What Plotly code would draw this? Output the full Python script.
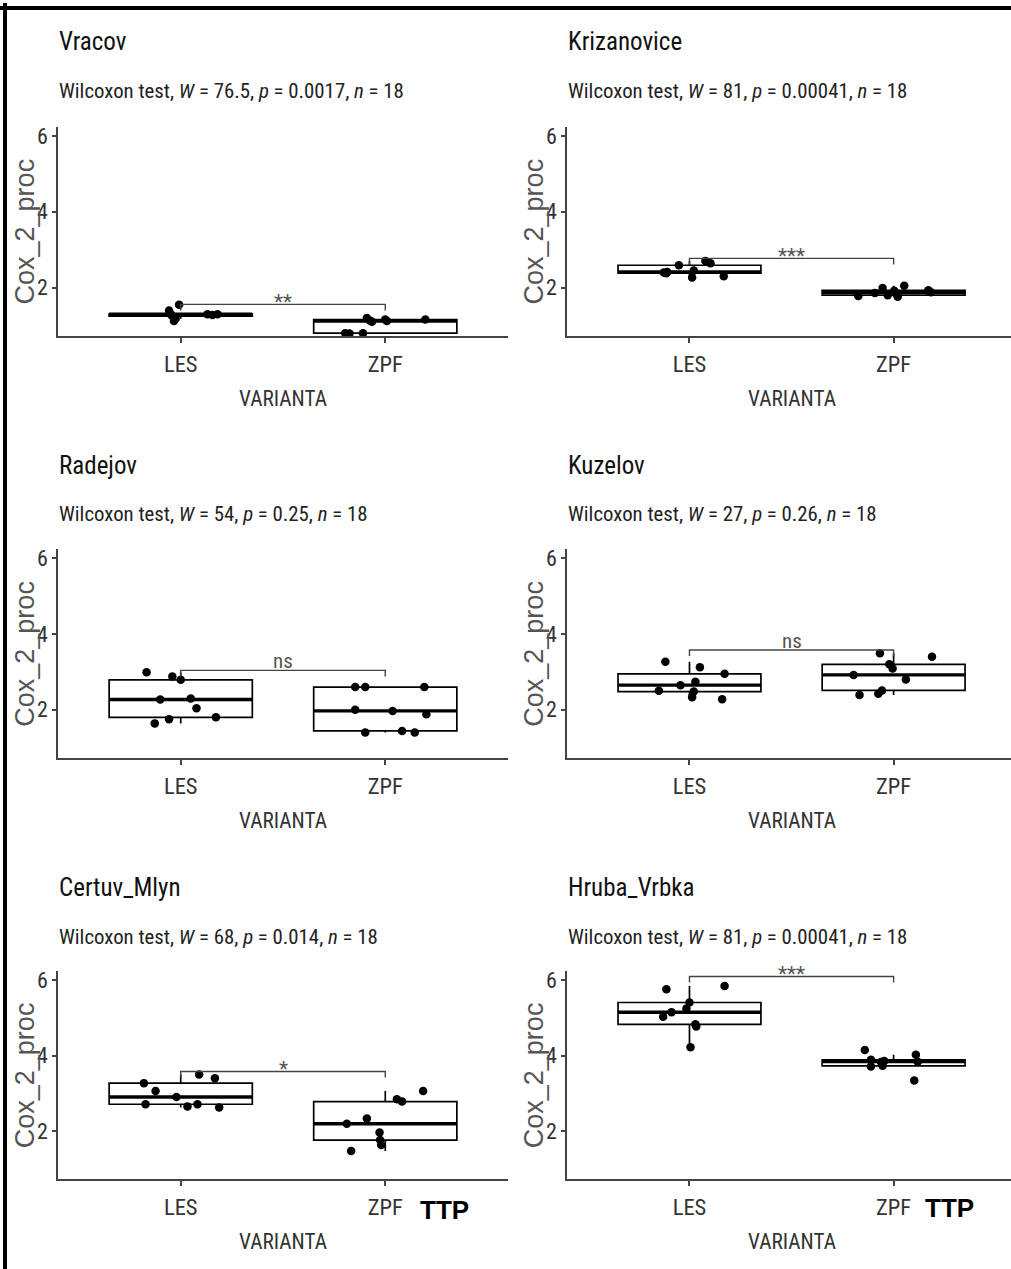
import numpy as np
import plotly.graph_objects as go

# ---- data -------------------------------------------------------------
SITES = ["Vracov", "Krizanovice", "Radejov", "Kuzelov", "Certuv_Mlyn", "Hruba_Vrbka"]
VARIANTS = ["LES", "ZPF"]
Y_TICKS = [2, 4, 6]

# Cox_2_proc, 9 samples per variant and site
VRACOV_LES = [1.40, 1.30, 1.25, 1.12, 1.18, 1.55, 1.30, 1.28, 1.30]
VRACOV_ZPF = [0.80, 0.79, 0.80, 1.20, 1.13, 1.10, 1.16, 1.12, 1.16]
KRIZANOVICE_LES = [2.40, 2.38, 2.59, 2.27, 2.45, 2.70, 2.64, 2.30, 2.41]
KRIZANOVICE_ZPF = [1.78, 1.86, 1.99, 1.80, 1.92, 1.76, 2.05, 1.93, 1.88]
RADEJOV_LES = [2.99, 1.64, 2.27, 1.75, 2.88, 2.79, 2.30, 2.04, 1.80]
RADEJOV_ZPF = [2.60, 2.60, 2.60, 2.00, 1.97, 1.88, 1.40, 1.44, 1.40]
KUZELOV_LES = [2.50, 3.27, 2.65, 2.33, 2.48, 2.74, 3.12, 2.28, 2.95]
KUZELOV_ZPF = [2.92, 2.39, 2.42, 3.49, 2.51, 3.20, 3.09, 2.80, 3.40]
CERTUV_LES = [3.27, 2.71, 3.06, 2.90, 2.65, 2.71, 3.50, 3.40, 2.62]
CERTUV_ZPF = [2.19, 1.47, 2.33, 1.96, 1.76, 1.63, 2.84, 2.78, 3.06]
HRUBA_LES = [5.03, 5.76, 5.15, 5.25, 5.41, 4.22, 4.83, 4.77, 5.85]
HRUBA_ZPF = [4.15, 3.89, 3.71, 3.83, 3.73, 3.86, 3.34, 4.02, 3.84]

SAMPLES = [
    (VRACOV_LES, VRACOV_ZPF),
    (KRIZANOVICE_LES, KRIZANOVICE_ZPF),
    (RADEJOV_LES, RADEJOV_ZPF),
    (KUZELOV_LES, KUZELOV_ZPF),
    (CERTUV_LES, CERTUV_ZPF),
    (HRUBA_LES, HRUBA_ZPF),
]

# Wilcoxon test results per site
W_STAT = ["76.5", "81", "54", "27", "68", "81"]
P_VALUE = ["0.0017", "0.00041", "0.25", "0.26", "0.014", "0.00041"]
N_OBS = [18, 18, 18, 18, 18, 18]
SIGNIF = ["**", "***", "ns", "ns", "*", "***"]
BRACKET_Y = [1.56, 2.77, 3.04, 3.58, 3.58, 6.10]
TAG = "TTP"

# horizontal jitter of the sample dots (category units)
JITTER = [
    ([-0.057, -0.049, -0.041, -0.033, -0.025, -0.008, 0.131, 0.155, 0.180],
     [-0.196, -0.175, -0.109, -0.090, -0.074, -0.065, 0.000, 0.008, 0.196]),
    ([-0.126, -0.114, -0.052, 0.013, 0.021, 0.078, 0.103, 0.168, -0.109],
     [-0.173, -0.092, -0.054, -0.029, 0.003, 0.020, 0.052, 0.170, 0.183]),
    ([-0.167, -0.127, -0.100, -0.057, -0.041, 0.000, 0.049, 0.077, 0.172],
     [-0.147, -0.098, 0.191, -0.147, 0.036, 0.201, -0.098, 0.082, 0.144]),
    ([-0.150, -0.118, -0.044, 0.013, 0.021, 0.029, 0.051, 0.160, 0.172],
     [-0.196, -0.167, -0.075, -0.067, -0.057, -0.021, -0.005, 0.060, 0.188]),
    ([-0.180, -0.172, -0.123, -0.021, 0.033, 0.082, 0.090, 0.167, 0.188],
     [-0.188, -0.167, -0.090, -0.028, -0.025, -0.020, 0.057, 0.082, 0.185]),
    ([-0.129, -0.113, -0.088, -0.015, 0.000, 0.005, 0.029, 0.033, 0.172],
     [-0.141, -0.111, -0.111, -0.062, -0.054, -0.046, 0.101, 0.109, 0.118]),
]

# ---- styling ------------------------------------------------------------
W, H = 1011, 1269
COND = "Roboto Condensed, Liberation Sans Narrow, Arial Narrow, sans-serif"
SANS = "Liberation Sans, Arial, sans-serif"
AXIS_COL = "#444444"
BOX_W = 0.7
TIP = 0.16
Y_RANGE = [0.72, 6.24]

COL_X = [(58, 508, [0.4, 2.6]), (567, 1011, [0.4, 2.575])]
ROW_Y = [(124, 334), (547.5, 757), (970.5, 1179)]
ROW_SHIFT = [0, 424.5, 848]


def px(x):
    return x / W


def py(y):
    return 1 - y / H


def box_stats(vals):
    a = np.sort(np.asarray(vals, dtype=float))
    q1, med, q3 = np.percentile(a, [25, 50, 75])
    iqr = q3 - q1
    lf = a[a >= q1 - 1.5 * iqr].min()
    uf = a[a <= q3 + 1.5 * iqr].max()
    return q1, med, q3, lf, uf


fig = go.Figure()
annotations = []
layout_axes = {}

for i, site in enumerate(SITES):
    row, col = divmod(i, 2)
    x0, x1, xr = COL_X[col]
    top, bot = ROW_Y[row]
    k = "" if i == 0 else str(i + 1)
    xa, ya = "x" + k, "y" + k

    layout_axes["xaxis" + k] = dict(
        domain=[px(x0), px(x1)], range=xr, anchor=ya,
        tickvals=[1, 2], ticktext=VARIANTS,
        showline=True, linecolor=AXIS_COL, linewidth=1.5,
        ticks="outside", ticklen=5, tickwidth=1.5, tickcolor=AXIS_COL,
        ticklabelstandoff=2,
        showgrid=False, zeroline=False, fixedrange=True,
        tickfont=dict(family=COND, size=22.5, color="#333333"),
    )
    layout_axes["yaxis" + k] = dict(
        domain=[py(bot), py(top)], range=Y_RANGE, anchor=xa,
        tickvals=Y_TICKS, ticktext=[str(t) for t in Y_TICKS],
        showline=True, linecolor=AXIS_COL, linewidth=1.5,
        ticks="outside", ticklen=4, tickwidth=1.5, tickcolor=AXIS_COL,
        showgrid=False, zeroline=False, fixedrange=True,
        tickfont=dict(family=COND, size=22, color="#333333"),
    )

    for j, (vals, offs) in enumerate(zip(SAMPLES[i], JITTER[i])):
        pos = j + 1
        q1, med, q3, lf, uf = box_stats(vals)
        fig.add_trace(go.Box(
            x=[pos], q1=[q1], median=[med], q3=[q3],
            lowerfence=[lf], upperfence=[uf],
            width=BOX_W, whiskerwidth=0, boxpoints=False,
            fillcolor="white", line=dict(color="black", width=1.7),
            xaxis=xa, yaxis=ya, showlegend=False, hoverinfo="skip",
        ))
        # thicker median bar
        fig.add_trace(go.Scatter(
            x=[pos - BOX_W / 2, pos + BOX_W / 2], y=[med, med], mode="lines",
            line=dict(color="black", width=3.4),
            xaxis=xa, yaxis=ya, showlegend=False, hoverinfo="skip",
        ))
        fig.add_trace(go.Scatter(
            x=[pos + o for o in offs], y=vals, mode="markers",
            marker=dict(color="black", size=8.5),
            xaxis=xa, yaxis=ya, showlegend=False, hoverinfo="skip",
        ))

    # comparison bracket
    b = BRACKET_Y[i]
    fig.add_trace(go.Scatter(
        x=[1, 1, 2, 2], y=[b - TIP, b, b, b - TIP], mode="lines",
        line=dict(color=AXIS_COL, width=1.4),
        xaxis=xa, yaxis=ya, showlegend=False, hoverinfo="skip",
    ))
    star = SIGNIF[i] != "ns"
    annotations.append(dict(
        x=1.5, y=b, xref=xa, yref=ya, text=SIGNIF[i], showarrow=False,
        xanchor="center", yanchor="bottom", yshift=-12 if star else -5,
        font=dict(family=COND, size=21, color="#555555"),
    ))

    # panel title and test summary
    dy = ROW_SHIFT[row]
    annotations.append(dict(
        x=px(x0 - 1), y=py(39 + dy), xref="paper", yref="paper", text=site,
        showarrow=False, xanchor="left", yanchor="middle",
        font=dict(family=COND, size=25, color="#111111"),
    ))
    sub = (f"Wilcoxon test, <i>W</i> = {W_STAT[i]}, <i>p</i> = {P_VALUE[i]}, "
           f"<i>n</i> = {N_OBS[i]}")
    annotations.append(dict(
        x=px(x0 - 1), y=py(88 + dy), xref="paper", yref="paper", text=sub,
        showarrow=False, xanchor="left", yanchor="middle",
        font=dict(family=COND, size=20.8, color="#222222"),
    ))

    # axis titles
    annotations.append(dict(
        x=px(x0 - 33), y=py((top + bot) / 2), xref="paper", yref="paper",
        text="Cox_2_proc", textangle=-90, showarrow=False,
        xanchor="center", yanchor="middle",
        font=dict(family=SANS, size=27, color="#555555"),
    ))
    annotations.append(dict(
        x=px(x0 + 225), y=py(bot + 62), xref="paper", yref="paper",
        text="VARIANTA", showarrow=False, xanchor="center", yanchor="middle",
        font=dict(family=COND, size=21.3, color="#333333"),
    ))

# tags beside the bottom row
for cx, cy in [(444, 1210), (949.5, 1208)]:
    annotations.append(dict(
        x=px(cx), y=py(cy), xref="paper", yref="paper", text=f"<b>{TAG}</b>",
        showarrow=False, xanchor="center", yanchor="middle",
        font=dict(family=SANS, size=26, color="black"),
    ))

shapes = [
    dict(type="line", xref="paper", yref="paper", x0=px(5), x1=px(5), y0=0, y1=1,
         line=dict(color="black", width=4)),
    dict(type="line", xref="paper", yref="paper", x0=0, x1=1, y0=py(5), y1=py(5),
         line=dict(color="black", width=4)),
]

fig.update_layout(
    width=W, height=H, margin=dict(l=0, r=0, t=0, b=0),
    paper_bgcolor="white", plot_bgcolor="white",
    showlegend=False, annotations=annotations, shapes=shapes,
    **layout_axes,
)

fig.write_html("out.html")
